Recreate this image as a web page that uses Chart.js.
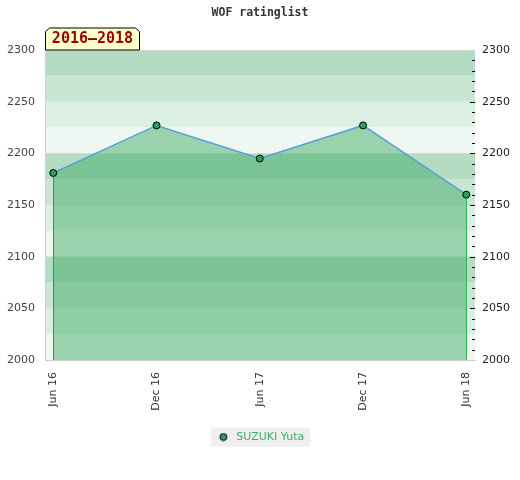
<!DOCTYPE html>
<html>
<head>
<meta charset="utf-8">
<script src="https://cdn.jsdelivr.net/npm/chart.js@4"></script>
<style>
  html, body { margin: 0; padding: 0; background: #ffffff; }
  #c { display: block; }
</style>
</head>
<body>
<canvas id="c" width="520" height="480"></canvas>
<script>
// ---- data ----
const categories = ['Jun 16', 'Dec 16', 'Jun 17', 'Dec 17', 'Jun 18'];
const ratings = [2181, 2227, 2195, 2227, 2160];
const seriesName = 'SUZUKI Yuta';
const chartTitle = 'WOF ratinglist';
const tabTitle = '2016\u20132018';
const yMin = 2000, yMax = 2300, yStep = 50;

// ---- styles ----
const bandColors = ['#b3dcc2', '#c9e6d4', '#dcefe3', '#eef7f1']; // from top of each 100
const fillColor = 'rgba(66,171,103,0.49)';
const lineColor = '#5b9fd6';
const markerColor = '#2f9e5c';

// legend marker image
const legendDot = document.createElement('canvas');
legendDot.width = 9; legendDot.height = 9;
(function () {
  const g = legendDot.getContext('2d');
  g.beginPath();
  g.arc(4.5, 4.5, 3.5, 0, Math.PI * 2);
  g.fillStyle = markerColor;
  g.fill();
  g.lineWidth = 1;
  g.strokeStyle = '#000';
  g.stroke();
})();

const decor = {
  id: 'decor',
  beforeDraw(chart) {
    const { ctx, chartArea: a } = chart;
    const y = chart.scales.y;
    ctx.save();
    for (let v = yMax; v > yMin; v -= 25) {
      const idx = Math.round((yMax - v) / 25) % 4;
      const t = y.getPixelForValue(v), b = y.getPixelForValue(v - 25);
      ctx.fillStyle = bandColors[idx];
      ctx.fillRect(a.left, t, a.right - a.left, b - t);
    }
    const lg = chart.legend;
    if (lg && lg.legendHitBoxes && lg.legendHitBoxes.length) {
      const hb = lg.legendHitBoxes[0];
      ctx.fillStyle = '#efefef';
      ctx.fillRect(hb.left - 5, hb.top - 4, hb.width + 11, hb.height + 8);
    }
    ctx.restore();
  },
  afterDatasetsDraw(chart) {
    const { ctx, chartArea: a } = chart;
    const pts = chart.getDatasetMeta(0).data;
    ctx.save();
    const first = pts[0], last = pts[pts.length - 1];
    ctx.lineWidth = 1;
    ctx.strokeStyle = '#3d8f58';
    ctx.beginPath();
    ctx.moveTo(Math.round(first.x) + 0.5, first.y + 4);
    ctx.lineTo(Math.round(first.x) + 0.5, a.bottom);
    ctx.stroke();
    ctx.strokeStyle = '#2fb54e';
    ctx.beginPath();
    ctx.moveTo(Math.round(last.x) + 0.5, last.y + 4);
    ctx.lineTo(Math.round(last.x) + 0.5, a.bottom);
    ctx.stroke();
    ctx.restore();
  },
  afterDraw(chart) {
    const { ctx, chartArea: a } = chart;
    const y2 = chart.scales.y2;
    ctx.save();
    ctx.strokeStyle = '#d4d4d4';
    ctx.lineWidth = 1;
    ctx.beginPath();
    ctx.moveTo(a.left, Math.round(a.top) + 0.5);
    ctx.lineTo(a.right, Math.round(a.top) + 0.5);
    ctx.stroke();
    ctx.strokeStyle = '#000';
    for (let v = yMin + 10; v < yMax; v += 10) {
      const py = Math.round(y2.getPixelForValue(v)) + 0.5;
      const len = (v % yStep === 0) ? 5 : 3;
      ctx.beginPath();
      ctx.moveTo(a.right - len, py);
      ctx.lineTo(a.right, py);
      ctx.stroke();
    }
    const x0 = a.left, x1 = a.left + 95, yb = a.top, yt = a.top - 22.5, c = 4;
    ctx.beginPath();
    ctx.moveTo(x0 + 0.5, yb);
    ctx.lineTo(x0 + 0.5, yt + c);
    ctx.lineTo(x0 + 0.5 + c, yt + 0.5);
    ctx.lineTo(x1 - 0.5 - c, yt + 0.5);
    ctx.lineTo(x1 - 0.5, yt + c);
    ctx.lineTo(x1 - 0.5, yb);
    ctx.closePath();
    ctx.fillStyle = '#ffffcc';
    ctx.fill();
    ctx.strokeStyle = '#000';
    ctx.stroke();
    ctx.fillStyle = '#990000';
    ctx.font = 'bold 15px "DejaVu Sans Mono"';
    ctx.textAlign = 'center';
    ctx.textBaseline = 'middle';
    ctx.fillText(tabTitle, (x0 + x1) / 2, yt + 12);
    ctx.restore();
  }
};

new Chart(document.getElementById('c'), {
  type: 'line',
  data: {
    datasets: [{
      label: seriesName,
      data: ratings.map((v, i) => ({ x: i, y: v })),
      borderColor: lineColor,
      borderWidth: 1.5,
      backgroundColor: fillColor,
      fill: 'start',
      tension: 0,
      pointRadius: 3.5,
      pointBackgroundColor: markerColor,
      pointBorderColor: '#000',
      pointBorderWidth: 1
    }]
  },
  options: {
    responsive: false,
    animation: false,
    devicePixelRatio: 1,
    layout: { padding: { top: 0, left: 0, right: 0, bottom: 27.5 } },
    plugins: {
      title: {
        display: true,
        text: chartTitle,
        color: '#333',
        font: { family: '"DejaVu Sans Mono"', size: 11.5, weight: 'bold' },
        padding: { top: 6.5, bottom: 29.7 }
      },
      legend: {
        display: true,
        position: 'bottom',
        labels: {
          usePointStyle: true,
          pointStyle: legendDot,
          pointStyleWidth: 15,
          boxHeight: 9,
          padding: 10,
          color: '#3cb062',
          font: { family: '"DejaVu Sans"', size: 11 }
        }
      },
      tooltip: { enabled: false }
    },
    scales: {
      x: {
        type: 'linear',
        min: -0.08,
        max: 4.084,
        afterFit(s) { s.height = 61.5; },
        grid: { display: false, drawTicks: false },
        border: { display: true, color: '#cccccc' },
        ticks: {
          stepSize: 1,
          includeBounds: false,
          autoSkip: false,
          minRotation: 90,
          maxRotation: 90,
          padding: 12,
          color: '#333',
          font: { family: '"DejaVu Sans"', size: 11 },
          callback: (v) => categories[v] !== undefined ? categories[v] : ''
        }
      },
      y: {
        position: 'left',
        min: yMin,
        max: yMax,
        afterFit(s) { s.width = 45; },
        grid: { display: true, drawTicks: false, color: 'rgba(215,215,215,0.45)' },
        border: { display: true, color: '#d0d0d0' },
        ticks: {
          stepSize: yStep,
          padding: 10,
          color: '#444',
          font: { family: '"DejaVu Sans"', size: 11 },
          callback: (v) => String(v)
        }
      },
      y2: {
        position: 'right',
        min: yMin,
        max: yMax,
        afterFit(s) { s.width = 45; },
        grid: { display: false, drawTicks: false },
        border: { display: false },
        ticks: {
          stepSize: yStep,
          padding: 7,
          color: '#222',
          font: { family: '"DejaVu Sans"', size: 11 },
          callback: (v) => String(v)
        }
      }
    }
  },
  plugins: [decor]
});
</script>
</body>
</html>
